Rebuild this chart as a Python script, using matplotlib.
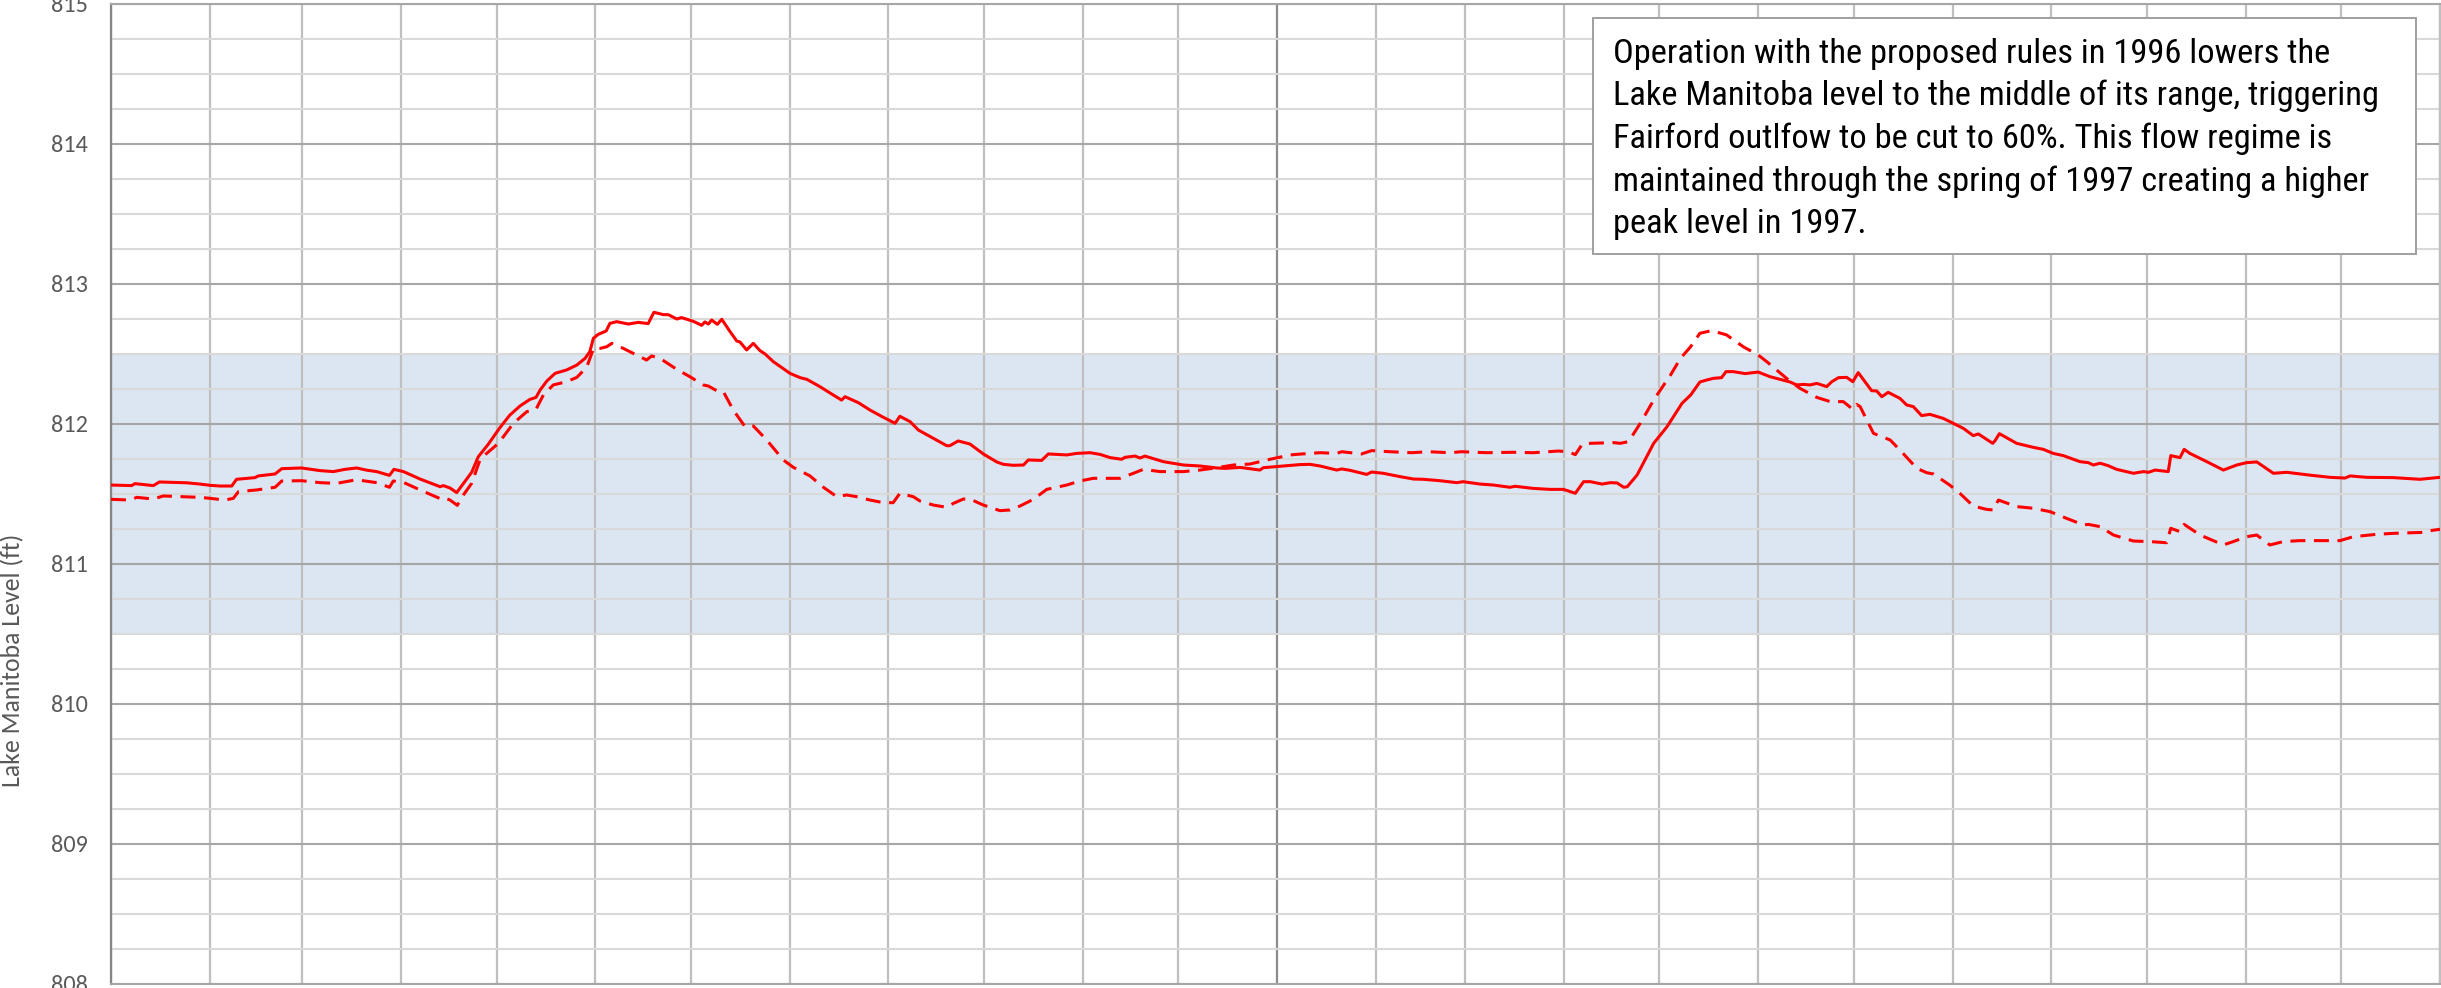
import numpy as np
import pandas as pd
import matplotlib
matplotlib.use("Agg")
import matplotlib.pyplot as plt
import matplotlib.dates as mdates
from matplotlib.patches import Rectangle
from matplotlib import font_manager

# ---------------- data ----------------
START = "1996-01-01"
END = "1998-01-01"

# days since 1996-01-01 and lake level (ft) -- solid series
solid_day = [0, 6.5, 7.5, 13.3, 15.2, 23.8, 27.9, 31.1, 34.2, 37.9, 39.4, 45.2, 46.2, 51.5, 53.6,
             59.8, 65.6, 69.8, 73.4, 77.1, 80.3, 83.4, 87.4, 88.8, 91.8, 97, 103.3, 104.3, 106.4,
             108.5, 113.2, 115.3, 118.4, 122.1, 125.2, 128.4, 131.5, 133.4, 134.7, 136.8, 139.4,
             143.0, 146.2, 148.8, 150.3, 151.4, 152.9, 155.4, 156.6, 158.7, 162.4, 165.5, 168.6,
             170.4, 173.4, 174.9, 177.6, 179.1, 182.8, 185.4, 186.4, 187.5, 188.5, 190.3, 191.7,
             194.3, 196.4, 197.4, 199.5, 201.6, 203.7, 205.3, 207.9, 213.1, 216.3, 218.4, 222.5,
             226.7, 229.3, 230.4, 234.6, 238.2, 242.4, 246.1, 247.6, 250.8, 253.4, 258.1, 262.3,
             263.3, 265.9, 269.6, 273.8, 278.0, 280.1, 283.2, 286.4, 287.9, 292.1, 294.2, 300.0,
             303.1, 307.3, 310.4, 313.6, 317.2, 318.3, 321.4, 323.0, 324.5, 330.3, 336.6, 341.8,
             347.1, 349.7, 354.4, 360.6, 361.7, 368.0, 373.2, 376.3, 379.5, 384.7, 386.3, 388.9,
             394.1, 395.7, 399.3, 404.6, 408.8, 411.9, 417.1, 422.4, 424.4, 429.7, 433.9, 439.1,
             440.7, 446.4, 451.7, 455.9, 459.6, 462.2, 464.3, 468.0, 470.6, 472.7, 474.8, 475.9,
             479.0, 484.2, 488.4, 493.1, 495.8, 498.7, 500.8, 502.9, 505.5, 506.9, 509.2, 512.9,
             517.0, 520.7, 523.9, 527.0, 529.1, 531.2, 533.3, 535.4, 538.5, 540.1, 542.2, 544.8,
             546.7, 548.4, 550.5, 552.6, 554.2, 555.8, 557.8, 561.5, 563.6, 565.7, 568.3, 570.9,
             575.1, 578.2, 581.4, 584.5, 586.1, 590.6, 591.3, 592.7, 598.1, 603.4, 606.5, 609.6,
             612.8, 618.0, 620.6, 622.2, 624.3, 626.9, 629.5, 634.8, 637.9, 639.5, 641.6, 645.7,
             646.5, 649.4, 650.7, 652.5, 657.8, 663.0, 667.2, 670.3, 673.5, 678.7, 682.9, 689.7,
             696.5, 701.2, 702.8, 708.0, 716.4, 724.7, 731]
solid_level = [811.564, 811.56, 811.574, 811.56, 811.586, 811.58, 811.571, 811.562, 811.557, 811.557,
               811.605, 811.617, 811.629, 811.643, 811.681, 811.686, 811.667, 811.66, 811.676,
               811.686, 811.67, 811.66, 811.633, 811.676, 811.66, 811.607, 811.552, 811.56, 811.543,
               811.51, 811.655, 811.767, 811.855, 811.975, 812.064, 812.129, 812.176, 812.19,
               812.243, 812.307, 812.362, 812.386, 812.421, 812.469, 812.517, 812.612, 812.64,
               812.664, 812.719, 812.731, 812.714, 812.726, 812.717, 812.798, 812.781, 812.781,
               812.75, 812.76, 812.733, 812.705, 812.729, 812.714, 812.743, 812.712, 812.748,
               812.66, 812.593, 812.586, 812.529, 812.576, 812.524, 812.5, 812.445, 812.362,
               812.331, 812.319, 812.267, 812.207, 812.171, 812.195, 812.152, 812.1, 812.048,
               812.005, 812.055, 812.017, 811.957, 811.898, 811.845, 811.845, 811.879, 811.857,
               811.786, 811.729, 811.712, 811.705, 811.707, 811.743, 811.74, 811.786, 811.779,
               811.79, 811.795, 811.783, 811.76, 811.748, 811.762, 811.771, 811.757, 811.771,
               811.731, 811.707, 811.7, 811.686, 811.683, 811.69, 811.671, 811.688, 811.7, 811.71,
               811.712, 811.7, 811.671, 811.679, 811.669, 811.64, 811.657, 811.648, 811.624,
               811.607, 811.605, 811.595, 811.581, 811.588, 811.571, 811.564, 811.548, 811.555,
               811.54, 811.533, 811.533, 811.505, 811.588, 811.588, 811.571, 811.581, 811.579,
               811.548, 811.552, 811.636, 811.862, 811.981, 812.148, 812.207, 812.3, 812.314,
               812.326, 812.331, 812.374, 812.374, 812.36, 812.371, 812.338, 812.319, 812.3,
               812.279, 812.283, 812.279, 812.29, 812.267, 812.302, 812.331, 812.333, 812.302,
               812.367, 812.302, 812.238, 812.236, 812.195, 812.226, 812.183, 812.136, 812.124,
               812.06, 812.069, 812.04, 812.005, 811.969, 811.917, 811.929, 811.862, 811.879,
               811.931, 811.862, 811.833, 811.819, 811.79, 811.774, 811.731, 811.724, 811.707,
               811.72, 811.702, 811.676, 811.648, 811.66, 811.655, 811.671, 811.66, 811.774,
               811.76, 811.819, 811.79, 811.731, 811.671, 811.707, 811.724, 811.729, 811.648,
               811.655, 811.636, 811.619, 811.614, 811.629, 811.619, 811.617, 811.605, 811.619]

# days since 1996-01-01 and lake level (ft) -- dashed series
dashed_day = [0, 6.0, 8.1, 13.3, 16.4, 27.9, 31.1, 35.8, 38.4, 40.0, 45.7, 51.5, 53.6, 59.8, 65.6,
              70.8, 76.1, 78.2, 83.4, 87.4, 88.6, 91.8, 97, 103.3, 104.3, 106.4, 108.7, 110.6,
              113.2, 115.8, 117.9, 121.6, 126.3, 130.5, 133.4, 135.7, 138.8, 143.0, 146.2, 149.3,
              150.9, 151.4, 153.5, 155.6, 157.2, 160.8, 163.9, 168.1, 169.7, 172.3, 177.6, 181.7,
              185.9, 187.5, 190.1, 192.2, 195.3, 199.0, 201.6, 205.8, 211.0, 214.2, 219.4, 223.6,
              227.8, 230.9, 234.0, 238.2, 242.4, 245.5, 247.6, 251.8, 253.9, 258.1, 262.3, 264.4,
              267.5, 269.6, 273.8, 279.0, 282.2, 285.3, 289.5, 293.7, 300.0, 304.1, 308.3, 313.6,
              316.7, 320.9, 324.0, 329.3, 336.6, 341.8, 347.1, 352.3, 357.5, 362.8, 370.1, 373.2,
              379.5, 384.7, 386.3, 392.5, 395.7, 401.4, 408.2, 413.5, 420.3, 423.9, 431.8, 440.1,
              446.4, 454.3, 457.4, 459.6, 461.8, 464.3, 471.6, 473.7, 476.3, 480.0, 484.2, 486.3,
              489.5, 492.6, 495.8, 498.7, 502.4, 507.1, 512.3, 517.0, 519.7, 525.9, 530.1, 535.4,
              539.6, 543.7, 546.7, 547.9, 549.0, 553.2, 558.4, 561.5, 566.8, 569.9, 572.0, 577.1,
              580.3, 584.5, 588.7, 590.8, 592.4, 598.1, 603.4, 608.6, 613.8, 619.1, 620.6, 624.3,
              628.5, 634.8, 640.0, 645.2, 646.5, 649.4, 650.7, 655.7, 663.0, 666.1, 670.3, 673.5,
              677.6, 681.8, 687.0, 699.6, 703.8, 711.1, 716.4, 725.8, 727.9, 731]
dashed_level = [811.462, 811.457, 811.476, 811.464, 811.486, 811.476, 811.469, 811.457, 811.469,
                811.517, 811.529, 811.548, 811.593, 811.595, 811.581, 811.576, 811.598, 811.598,
                811.581, 811.548, 811.593, 811.583, 811.529, 811.467, 811.476, 811.457, 811.419,
                811.493, 811.576, 811.743, 811.79, 811.862, 812.005, 812.088, 812.105, 812.207,
                812.279, 812.302, 812.333, 812.405, 812.505, 812.54, 812.54, 812.552, 812.576,
                812.54, 812.505, 812.457, 812.486, 812.469, 812.39, 812.338, 812.279, 812.271,
                812.238, 812.231, 812.1, 811.981, 811.986, 811.886, 811.743, 811.69, 811.629,
                811.548, 811.481, 811.493, 811.481, 811.457, 811.438, 811.438, 811.505, 811.481,
                811.45, 811.421, 811.405, 811.433, 811.464, 811.464, 811.421, 811.381, 811.386,
                811.414, 811.462, 811.533, 811.564, 811.593, 811.612, 811.612, 811.612, 811.648,
                811.676, 811.66, 811.66, 811.671, 811.688, 811.707, 811.714, 811.743, 811.779,
                811.785, 811.795, 811.79, 811.802, 811.786, 811.81, 811.802, 811.795, 811.802,
                811.795, 811.802, 811.795, 811.798, 811.795, 811.807, 811.802, 811.781, 811.857,
                811.862, 811.867, 811.862, 811.874, 812.005, 812.171, 812.243, 812.35, 812.469,
                812.552, 812.648, 812.667, 812.636, 812.552, 812.493, 812.445, 812.326, 812.255,
                812.19, 812.16, 812.16, 812.105, 812.14, 812.124, 811.933, 811.886, 811.814,
                811.683, 811.652, 811.643, 811.564, 811.505, 811.414, 811.39, 811.386, 811.457,
                811.41, 811.398, 811.374, 811.326, 811.279, 811.283, 811.267, 811.207, 811.164,
                811.16, 811.152, 811.255, 811.231, 811.283, 811.207, 811.136, 811.16, 811.195,
                811.207, 811.136, 811.16, 811.167, 811.167, 811.195, 811.212, 811.219, 811.226,
                811.238, 811.248]

y_ticks = [808, 809, 810, 811, 812, 813, 814, 815]
band_low, band_high = 810.5, 812.5
y_label = "Lake Manitoba Level (ft)"
note_lines = [
    "Operation with the proposed rules in 1996 lowers the",
    "Lake Manitoba level to the middle of its range, triggering",
    "Fairford outlfow to be cut to 60%. This flow regime is",
    "maintained through the spring of 1997 creating a higher",
    "peak level in 1997.",
]

# ---------------- fonts ----------------
installed = {f.name for f in font_manager.fontManager.ttflist}


def pick(cands):
    for c in cands:
        if c in installed:
            return c
    return "DejaVu Sans"


tick_font = pick(["Carlito", "Lato"])
note_font = pick(["Arial Narrow", "Liberation Sans Narrow", "Roboto Condensed",
                  "Archivo Narrow", "PT Sans Narrow", "Liberation Sans"])

# ---------------- figure ----------------
W, H = 2441, 988
fig = plt.figure(figsize=(W / 100, H / 100), dpi=100)
ax = fig.add_axes([111 / W, 4 / H, (2440 - 111) / W, 980 / H])

t0 = pd.Timestamp(START)
solid_dates = t0 + pd.to_timedelta(np.array(solid_day), unit="D")
dashed_dates = t0 + pd.to_timedelta(np.array(dashed_day), unit="D")

red = "#FF0000"
ax.plot(solid_dates, solid_level, color=red, lw=2.2, zorder=3, solid_joinstyle="round")
ax.plot(dashed_dates, dashed_level, color=red, lw=2.2, zorder=3, linestyle=(0, (4.9, 2.8)))

ax.axhspan(band_low, band_high, color="#DCE6F2", zorder=0.1, lw=0)

ax.set_xlim(pd.Timestamp(START), pd.Timestamp(END))
ax.set_ylim(y_ticks[0], y_ticks[-1])
ax.set_yticks(y_ticks)
ax.yaxis.set_minor_locator(matplotlib.ticker.MultipleLocator(0.25))
ax.xaxis.set_major_locator(mdates.YearLocator())
ax.xaxis.set_minor_locator(mdates.MonthLocator())
ax.set_axisbelow(True)

ax.grid(which="major", axis="y", color="#A6A6A6", lw=1.5)
ax.grid(which="minor", axis="y", color="#D9D9D9", lw=1.5)
ax.grid(which="minor", axis="x", color="#BFBFBF", lw=1.6)
ax.grid(which="major", axis="x", color="#8C8C8C", lw=1.6)

tick_size = 17.5 if tick_font == "Carlito" else 16.5
ax.tick_params(axis="both", which="both", length=0)
ax.tick_params(axis="x", labelbottom=False)
ax.tick_params(axis="y", pad=16.5, labelsize=tick_size, labelcolor="#595959")
for lab in ax.get_yticklabels():
    lab.set_fontfamily([tick_font, "DejaVu Sans"])

ax.spines["left"].set_color("#868686")
ax.spines["left"].set_linewidth(1.6)
for s in ["top", "bottom"]:
    ax.spines[s].set_color("#A6A6A6")
    ax.spines[s].set_linewidth(1.5)
ax.spines["right"].set_color("#BFBFBF")
ax.spines["right"].set_linewidth(1.5)

fig.text(12.5 / W, 1 - 660 / H, y_label, rotation=90, ha="center", va="center",
         fontsize=17.5 if tick_font == "Lato" else 18.5, color="#595959",
         family=[tick_font, "DejaVu Sans"])

# annotation box
bx0, bx1, by0, by1 = 1593, 2416, 18, 254
fig.add_artist(Rectangle((bx0 / W, 1 - by1 / H), (bx1 - bx0) / W, (by1 - by0) / H,
                         transform=fig.transFigure, facecolor="white",
                         edgecolor="#A0A0A0", lw=1.4, zorder=5))
note_texts = []
for i, line in enumerate(note_lines):
    base = 63 + 42.5 * i
    note_texts.append(fig.text(1613 / W, 1 - base / H, line, ha="left", va="baseline",
                               fontsize=22, color="black",
                               family=[note_font, "DejaVu Sans"], zorder=6))

# scale the note font so the line widths match the reference box text
target_w = np.array([738, 760, 710, 750, 251], dtype=float)
renderer = fig.canvas.get_renderer()
meas = np.array([t.get_window_extent(renderer).width for t in note_texts])
scale = float((target_w * meas).sum() / (meas * meas).sum())
for t in note_texts:
    t.set_fontsize(22 * scale)

fig.savefig("out.png", dpi=100)
